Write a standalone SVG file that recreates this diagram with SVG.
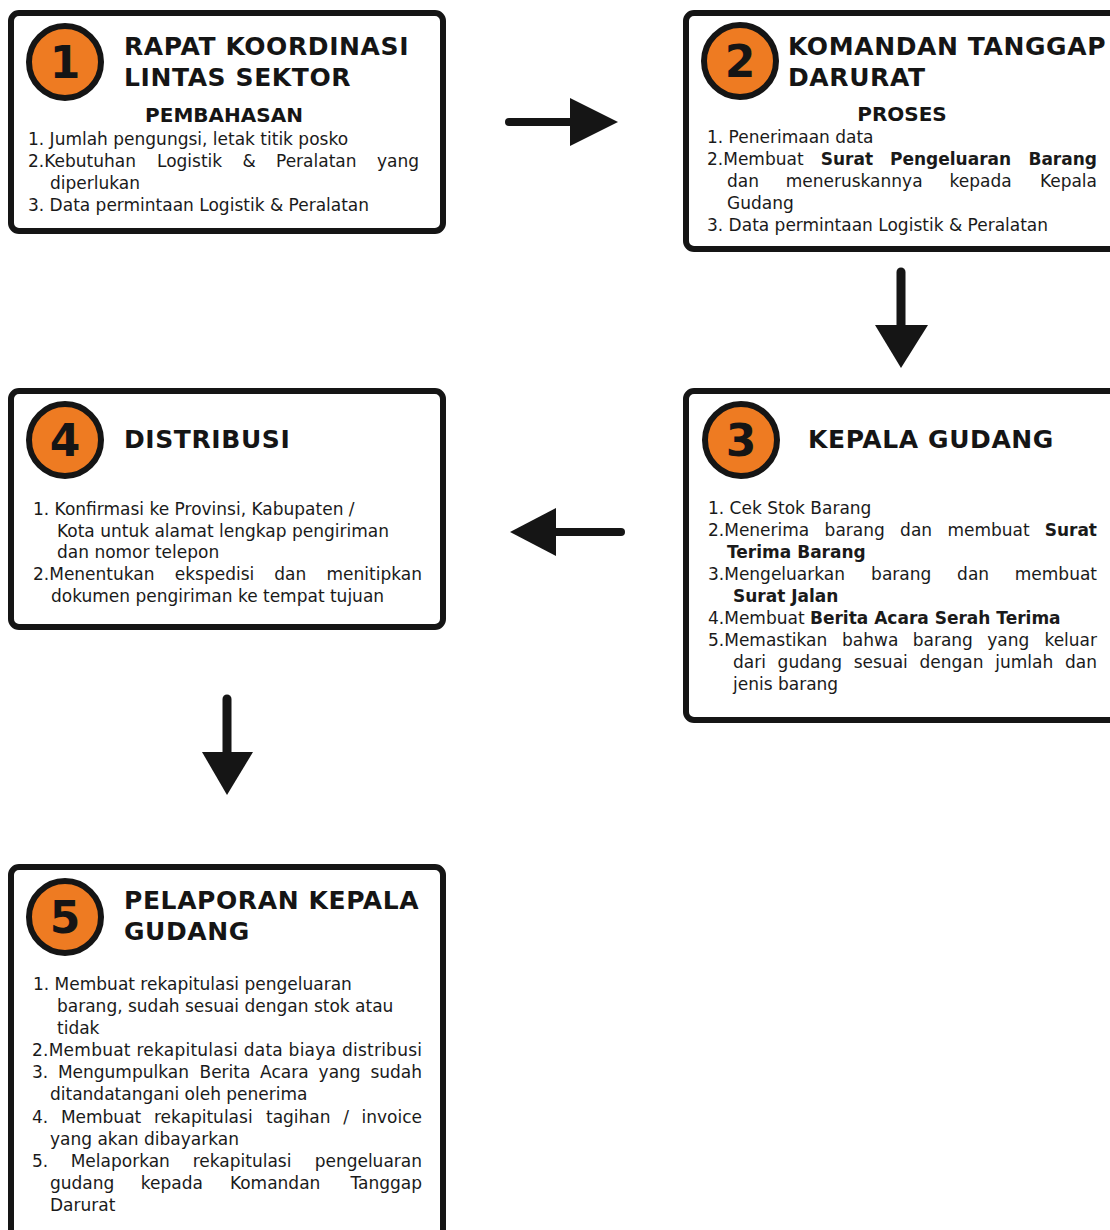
<svg xmlns="http://www.w3.org/2000/svg" width="1110" height="1230" viewBox="0 0 1110 1230">
<style>
.box{fill:#fff;stroke:#151515;stroke-width:6}
.badge{fill:#EE7B22;stroke:#151515;stroke-width:6}
.num{font-family:"DejaVu Sans",Verdana,sans-serif;font-weight:bold;font-size:44px;fill:#151515;text-anchor:middle}
.ttl{font-family:"DejaVu Sans",Verdana,sans-serif;font-weight:bold;font-size:25px;letter-spacing:0.6px;fill:#151515}
.sub{font-family:"DejaVu Sans",Verdana,sans-serif;font-weight:bold;font-size:20px;fill:#151515;text-anchor:middle}
.t{font-family:"DejaVu Sans",Verdana,sans-serif;font-size:17px;fill:#1a1a1a}
.e{text-anchor:end}
.bd{font-weight:bold}
.shaft{stroke:#151515;fill:none;stroke-linecap:round}
.head{fill:#151515}
</style>
<rect width="1110" height="1230" fill="#fff"/>

<g id="node1">
<rect class="box" x="11" y="13" width="432" height="218" rx="8"/>
<circle class="badge" cx="65" cy="62" r="36"/>
<text class="num" x="65" y="78">1</text>
<text class="ttl" x="124" y="55">RAPAT KOORDINASI</text>
<text class="ttl" x="124" y="86">LINTAS SEKTOR</text>
<text class="sub" x="224" y="122">PEMBAHASAN</text>
<text class="t" x="28" y="145">1. Jumlah pengungsi, letak titik posko</text>
<text class="t" y="167"><tspan x="28">2.Kebutuhan</tspan><tspan x="157">Logistik</tspan><tspan x="242.5">&amp;</tspan><tspan x="276">Peralatan</tspan></text>
<text class="t e" x="419" y="167">yang</text>
<text class="t" x="50" y="189">diperlukan</text>
<text class="t" x="28" y="211">3. Data permintaan Logistik &amp; Peralatan</text>
</g>

<g id="node2">
<rect class="box" x="686" y="13" width="440" height="236" rx="8"/>
<circle class="badge" cx="740" cy="61" r="36"/>
<text class="num" x="740" y="77">2</text>
<text class="ttl" x="788" y="55">KOMANDAN TANGGAP</text>
<text class="ttl" x="788" y="86">DARURAT</text>
<text class="sub" x="902" y="121">PROSES</text>
<text class="t" x="707" y="143">1. Penerimaan data</text>
<text class="t" y="165"><tspan x="707">2.Membuat</tspan><tspan class="bd" x="820.7">Surat</tspan><tspan class="bd" x="890">Pengeluaran</tspan></text>
<text class="t bd e" x="1097" y="165">Barang</text>
<text class="t" y="187"><tspan x="727">dan</tspan><tspan x="785.7">meneruskannya</tspan><tspan x="949.6">kepada</tspan></text>
<text class="t e" x="1097" y="187">Kepala</text>
<text class="t" x="727" y="209">Gudang</text>
<text class="t" x="707" y="231">3. Data permintaan Logistik &amp; Peralatan</text>
</g>

<g id="node3">
<rect class="box" x="686" y="391" width="440" height="329" rx="8"/>
<circle class="badge" cx="741" cy="440" r="36"/>
<text class="num" x="741" y="456">3</text>
<text class="ttl" x="808" y="448">KEPALA GUDANG</text>
<text class="t" x="708" y="514">1. Cek Stok Barang</text>
<text class="t" y="536"><tspan x="708">2.Menerima</tspan><tspan x="824.6">barang</tspan><tspan x="900.1">dan</tspan><tspan x="947.4">membuat</tspan></text>
<text class="t bd e" x="1097" y="536">Surat</text>
<text class="t bd" x="727" y="558">Terima Barang</text>
<text class="t" y="580"><tspan x="708">3.Mengeluarkan</tspan><tspan x="871.1">barang</tspan><tspan x="957.1">dan</tspan></text>
<text class="t e" x="1097" y="580">membuat</text>
<text class="t bd" x="733" y="602">Surat Jalan</text>
<text class="t" x="708" y="624">4.Membuat <tspan class="bd">Berita Acara Serah Terima</tspan></text>
<text class="t" y="646"><tspan x="708">5.Memastikan</tspan><tspan x="842">bahwa</tspan><tspan x="912.7">barang</tspan><tspan x="987.3">yang</tspan></text>
<text class="t e" x="1097" y="646">keluar</text>
<text class="t" y="668"><tspan x="733">dari</tspan><tspan x="777.6">gudang</tspan><tspan x="853.7">sesuai</tspan><tspan x="919.5">dengan</tspan><tspan x="995.2">jumlah</tspan></text>
<text class="t e" x="1097" y="668">dan</text>
<text class="t" x="733" y="690">jenis barang</text>
</g>

<g id="node4">
<rect class="box" x="11" y="391" width="432" height="236" rx="8"/>
<circle class="badge" cx="65" cy="440" r="36"/>
<text class="num" x="65" y="456">4</text>
<text class="ttl" x="124" y="448">DISTRIBUSI</text>
<text class="t" x="33" y="515">1. Konfirmasi ke Provinsi, Kabupaten /</text>
<text class="t" x="57" y="537">Kota untuk alamat lengkap pengiriman</text>
<text class="t" x="57" y="558">dan nomor telepon</text>
<text class="t" y="580"><tspan x="33">2.Menentukan</tspan><tspan x="174.8">ekspedisi</tspan><tspan x="274.3">dan</tspan></text>
<text class="t e" x="422" y="580">menitipkan</text>
<text class="t" x="51" y="602">dokumen pengiriman ke tempat tujuan</text>
</g>

<g id="node5">
<rect class="box" x="11" y="867" width="432" height="400" rx="8"/>
<circle class="badge" cx="65" cy="917" r="36"/>
<text class="num" x="65" y="933">5</text>
<text class="ttl" x="124" y="909">PELAPORAN KEPALA</text>
<text class="ttl" x="124" y="940">GUDANG</text>
<text class="t" x="33" y="990">1. Membuat rekapitulasi pengeluaran</text>
<text class="t" x="57" y="1012">barang, sudah sesuai dengan stok atau</text>
<text class="t" x="57" y="1034">tidak</text>
<text class="t" x="32" y="1056" textLength="390" lengthAdjust="spacing">2.Membuat rekapitulasi data biaya distribusi</text>
<text class="t" y="1078"><tspan x="32">3.</tspan><tspan x="57.9">Mengumpulkan</tspan><tspan x="199.5">Berita</tspan><tspan x="260.1">Acara</tspan><tspan x="318.6">yang</tspan></text>
<text class="t e" x="422" y="1078">sudah</text>
<text class="t" x="50" y="1100">ditandatangani oleh penerima</text>
<text class="t" y="1123"><tspan x="32">4.</tspan><tspan x="60.9">Membuat</tspan><tspan x="153.9">rekapitulasi</tspan><tspan x="266">tagihan</tspan><tspan x="343.3">/</tspan></text>
<text class="t e" x="422" y="1123">invoice</text>
<text class="t" x="50" y="1145">yang akan dibayarkan</text>
<text class="t" y="1167"><tspan x="32">5.</tspan><tspan x="70.7">Melaporkan</tspan><tspan x="192.7">rekapitulasi</tspan></text>
<text class="t e" x="422" y="1167">pengeluaran</text>
<text class="t" y="1189"><tspan x="50">gudang</tspan><tspan x="140.8">kepada</tspan><tspan x="229.9">Komandan</tspan></text>
<text class="t e" x="422" y="1189">Tanggap</text>
<text class="t" x="50" y="1211">Darurat</text>
</g>

<g id="connectors">
<line class="shaft" x1="509" y1="122" x2="574" y2="122" stroke-width="8"/>
<polygon class="head" points="570,98 618,122 570,146"/>
<line class="shaft" x1="901" y1="272" x2="901" y2="330" stroke-width="9"/>
<polygon class="head" points="875,325 928,325 901,368"/>
<line class="shaft" x1="552" y1="532" x2="621" y2="532" stroke-width="8"/>
<polygon class="head" points="556,508 510,532 556,556"/>
<line class="shaft" x1="227" y1="699" x2="227" y2="757" stroke-width="9"/>
<polygon class="head" points="202,752 253,752 227,795"/>
</g>
</svg>
